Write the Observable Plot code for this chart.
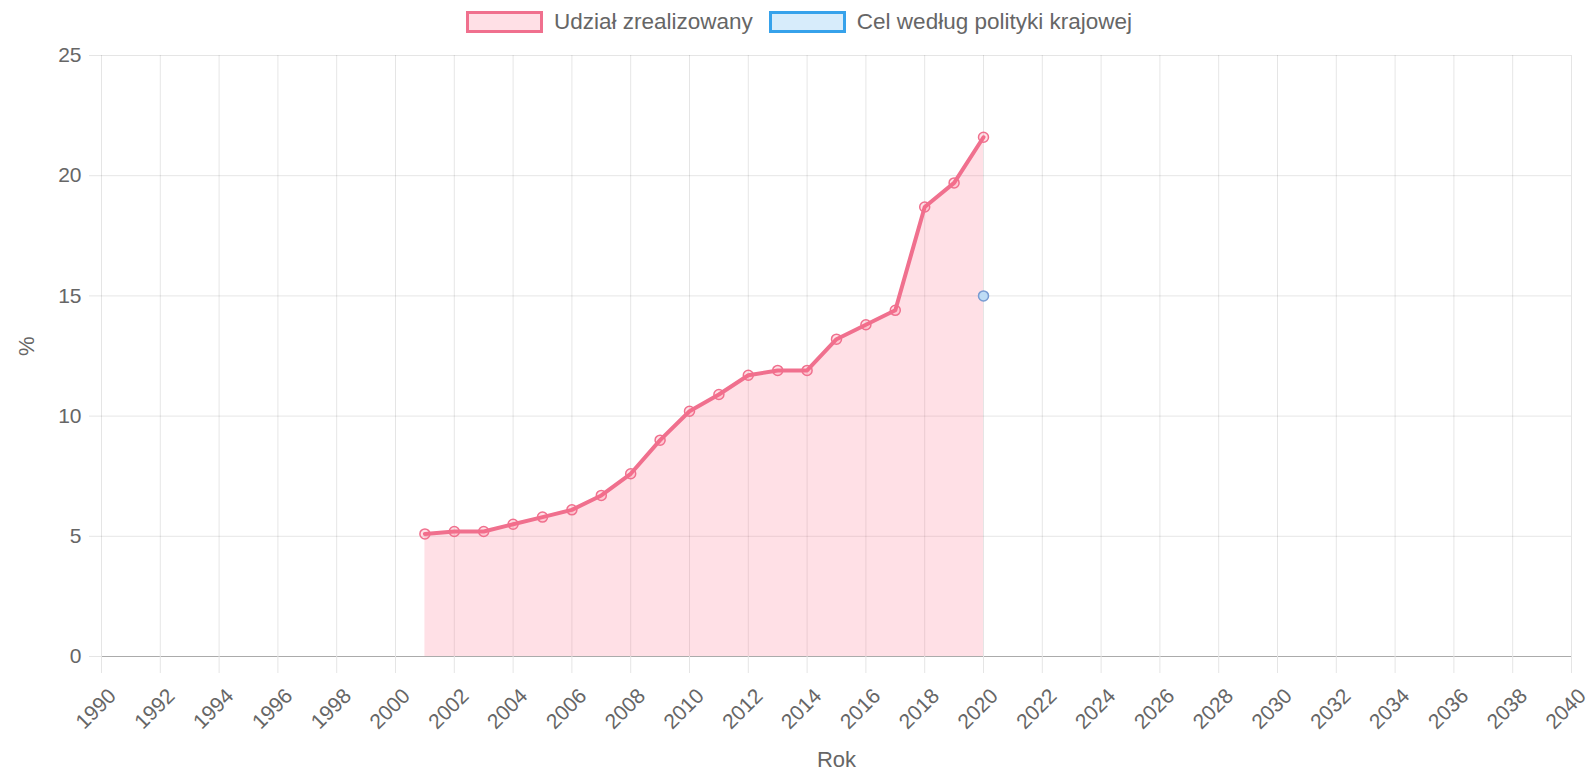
<!DOCTYPE html>
<html>
<head>
<meta charset="utf-8">
<script src="https://cdn.jsdelivr.net/npm/d3@7"></script>
<script src="https://cdn.jsdelivr.net/npm/@observablehq/plot@0.6"></script>
<style>
  html, body { margin: 0; padding: 0; background: #fff; }
  body { width: 1590px; height: 771px; overflow: hidden; font-family: "Liberation Sans", Arial, sans-serif; }
  #legend { height: 44px; display: flex; justify-content: center; align-items: center; color: #666; font-size: 22.5px; padding-left: 8px; box-sizing: border-box; }
  .item { display: flex; align-items: center; margin: 0 8px; }
  .box { width: 71px; height: 16px; border-width: 3px; border-style: solid; margin-right: 11px; }
  #chart svg { display: block; }
</style>
</head>
<body>
<div id="legend"></div>
<div id="chart"></div>
<script>
// ---- data ----
const years = [2001, 2002, 2003, 2004, 2005, 2006, 2007, 2008, 2009, 2010,
               2011, 2012, 2013, 2014, 2015, 2016, 2017, 2018, 2019, 2020];
const shares = [5.1, 5.2, 5.2, 5.5, 5.8, 6.1, 6.7, 7.6, 9.0, 10.2,
                10.9, 11.7, 11.9, 11.9, 13.2, 13.8, 14.4, 18.7, 19.7, 21.6];
const targetYears = [2020];
const targetValues = [15];
const xTicks = [1990, 1992, 1994, 1996, 1998, 2000, 2002, 2004, 2006, 2008, 2010, 2012, 2014,
                2016, 2018, 2020, 2022, 2024, 2026, 2028, 2030, 2032, 2034, 2036, 2038, 2040];
const yTicks = [0, 5, 10, 15, 20, 25];
const seriesNames = ["Udział zrealizowany", "Cel według polityki krajowej"];
const xTitle = "Rok";
const yTitle = "%";

const pinkStroke = "rgb(240,112,142)";
const pinkFill = "rgba(255,99,132,0.2)";
const blueStroke = "rgb(54,162,235)";
const blueFill = "rgba(54,162,235,0.2)";

// ---- legend ----
const legend = document.getElementById("legend");
[[seriesNames[0], pinkStroke, pinkFill], [seriesNames[1], blueStroke, blueFill]].forEach(([name, s, f]) => {
  const it = document.createElement("div");
  it.className = "item";
  const b = document.createElement("span");
  b.className = "box";
  b.style.borderColor = s;
  b.style.background = f;
  const t = document.createElement("span");
  t.textContent = name;
  it.appendChild(b); it.appendChild(t);
  legend.appendChild(it);
});

// ---- chart ----
const actual = years.map((y, i) => ({year: y, value: shares[i]}));
const target = targetYears.map((y, i) => ({year: y, value: targetValues[i]}));

const chart = Plot.plot({
  width: 1590,
  height: 727,
  marginLeft: 101,
  marginRight: 19,
  marginTop: 11,
  marginBottom: 115,
  style: {fontFamily: "'Liberation Sans', Arial, sans-serif", fontSize: "21px", color: "#666", background: "#fff"},
  x: {domain: [1990, 2040], label: null},
  y: {domain: [0, 25], label: null},
  marks: [
    Plot.gridX(xTicks, {stroke: "#000", strokeOpacity: 0.1}),
    Plot.gridY(yTicks, {stroke: "#000", strokeOpacity: 0.1}),
    Plot.areaY(actual, {x: "year", y: "value", fill: pinkFill}),
    Plot.ruleY([0], {stroke: "#000", strokeOpacity: 0.25}),
    Plot.lineY(actual, {x: "year", y: "value", stroke: pinkStroke, strokeWidth: 4}),
    Plot.dot(actual, {x: "year", y: "value", r: 5, fill: pinkFill, stroke: pinkStroke, strokeWidth: 1.5}),
    Plot.dot(target, {x: "year", y: "value", r: 5, fill: "rgb(190,220,245)", stroke: "rgb(120,155,210)", strokeWidth: 1.5}),
    // tick marks (extension of grid below the axis)
    Plot.axisX(xTicks, {tickSize: 17, tickFormat: () => "", stroke: "#e5e5e5"}),
    // rotated tick labels
    Plot.axisX(xTicks, {tickFormat: d => String(d), tickRotate: -45, tickSize: 0, tickPadding: 36, dx: 11,
                        fill: "#666", fontSize: 21}),
    Plot.axisY(yTicks, {tickSize: 12, tickPadding: 8, stroke: "#e5e5e5", fill: "#666", fontSize: 21}),
    Plot.text([yTitle], {frameAnchor: "left", dx: -75, rotate: -90, fill: "#666", fontSize: 22}),
    Plot.text([xTitle], {frameAnchor: "bottom", dy: 110, dx: 0, fill: "#666", fontSize: 22})
  ]
});
document.getElementById("chart").appendChild(chart);
</script>
</body>
</html>
